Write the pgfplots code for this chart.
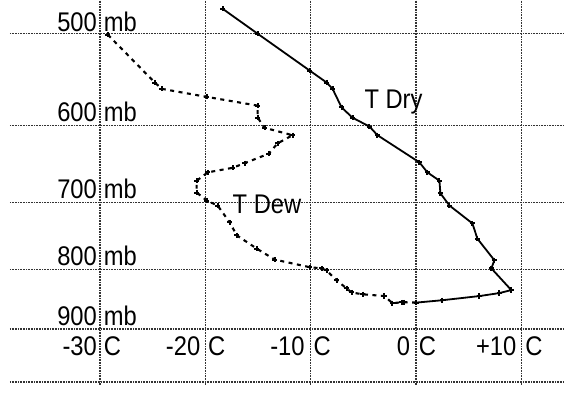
\documentclass[border=0pt]{standalone}
\usepackage{pgfplots}
\pgfplotsset{compat=1.18}
\usepackage{fontspec}
\setmainfont{Liberation Sans}[FakeStretch=0.88]
\tikzset{lab/.style={font=\fontsize{27}{28}\selectfont, inner sep=0pt, outer sep=0pt}}
\begin{document}
\begin{tikzpicture}
\begin{axis}[
  scale only axis, width=555pt, height=385pt,
  xmin=-38.53, xmax=14.08,
  ymode=log, y dir=reverse, ymin=468.2, ymax=1006.8,
  xtick={-30,-20,-10,0,10}, ytick={500,600,700,800,900,1000},
  xticklabels={}, yticklabels={},
  grid=major,
  major grid style={black!80, line width=1.4pt, dash pattern=on 1pt off 0.6pt},
  axis line style={draw=none}, tick style={draw=none},
  clip=false,
]
% T Dry
\addplot[black, line width=1.8pt, mark=+, mark size=2.6pt, mark options={line width=2pt}] coordinates {
(-18.34,475.8) (-15.02,500) (-10.09,538) (-8.48,551) (-7.91,558) (-7.06,579)
(-6.02,591) (-4.41,601.5) (-3.65,612) (0.33,646) (1.09,659) (2.23,670)
(2.32,687) (3.18,704) (5.36,729.5) (5.83,752) (7.44,785) (7.16,798)
(9.05,833) (7.91,838) (6.02,843) (2.51,850) (0.05,854)
};
% T Dew
\addplot[black, line width=2.1pt, dash pattern=on 4pt off 4.5pt, mark=+, mark size=2.6pt, mark options={solid, line width=2pt}] coordinates {
(-29.24,501) (-24.79,551) (-24.12,558) (-19.86,567) (-15.02,577) (-15.02,591)
(-14.36,603) (-11.71,612) (-13.13,622) (-13.98,635) (-16.26,647) (-17.39,653)
(-19.76,659) (-20.81,670) (-20.81,686) (-19.86,697) (-18.82,704) (-17.68,728)
(-17.01,747) (-15.12,767) (-13.41,784) (-10.09,796) (-8.96,798) (-8.48,801)
(-7.54,817) (-6.59,830) (-6.11,837) (-5.07,840) (-2.99,843) (-2.23,855)
(-1.37,853.6) (-1.09,853.6) (0.05,854)
};
% pressure labels
\node[lab, anchor=base east, xshift=-3pt, yshift=2pt] at (axis cs:-30,500) {500};
\node[lab, anchor=base west, xshift=4pt, yshift=2pt] at (axis cs:-30,500) {mb};
\node[lab, anchor=base east, xshift=-3pt, yshift=4pt] at (axis cs:-30,600) {600};
\node[lab, anchor=base west, xshift=4pt, yshift=4pt] at (axis cs:-30,600) {mb};
\node[lab, anchor=base east, xshift=-3pt, yshift=4pt] at (axis cs:-30,700) {700};
\node[lab, anchor=base west, xshift=4pt, yshift=4pt] at (axis cs:-30,700) {mb};
\node[lab, anchor=base east, xshift=-3pt, yshift=4pt] at (axis cs:-30,800) {800};
\node[lab, anchor=base west, xshift=4pt, yshift=4pt] at (axis cs:-30,800) {mb};
\node[lab, anchor=base east, xshift=-3pt, yshift=3.5pt] at (axis cs:-30,900) {900};
\node[lab, anchor=base west, xshift=4pt, yshift=3.5pt] at (axis cs:-30,900) {mb};
% temperature labels
\node[lab, anchor=base east, xshift=-3pt] at (axis cs:-30,948) {-30};
\node[lab, anchor=base west, xshift=4pt] at (axis cs:-30,948) {C};
\node[lab, anchor=base east, xshift=-5pt] at (axis cs:-20,948) {-20};
\node[lab, anchor=base west, xshift=3pt] at (axis cs:-20,948) {C};
\node[lab, anchor=base east, xshift=-6pt] at (axis cs:-10,948) {-10};
\node[lab, anchor=base west, xshift=3pt] at (axis cs:-10,948) {C};
\node[lab, anchor=base east, xshift=-6pt] at (axis cs:0,948) {0};
\node[lab, anchor=base west, xshift=3pt] at (axis cs:0,948) {C};
\node[lab, anchor=base east, xshift=-5pt] at (axis cs:10,948) {+10};
\node[lab, anchor=base west, xshift=4pt] at (axis cs:10,948) {C};
% series labels
\node[lab, anchor=base west] at (axis cs:-4.88,580.4) {T Dry};
\node[lab, anchor=base west] at (axis cs:-17.39,715) {T Dew};
\end{axis}
\path ([xshift=-10pt]current axis.south west) -- (current axis.north east);
\end{tikzpicture}
\end{document}
